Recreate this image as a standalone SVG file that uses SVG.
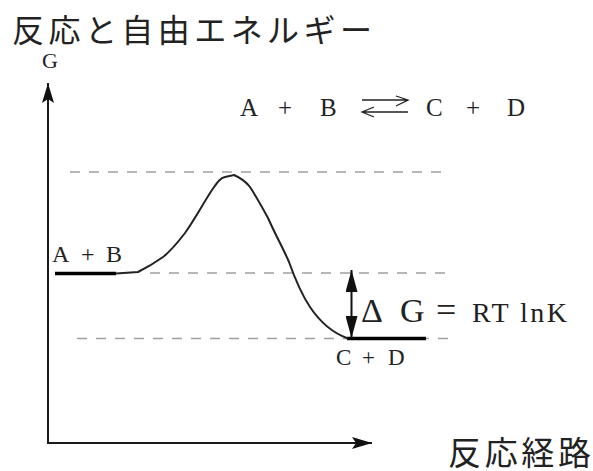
<svg xmlns="http://www.w3.org/2000/svg" width="593" height="471" viewBox="0 0 593 471">
<style>
.jp{font-family:"Noto Sans CJK JP","Noto Sans CJK SC",sans-serif;fill:#222}
.sr{font-family:"Liberation Serif","DejaVu Serif",serif;fill:#222}
.dash{stroke:#a0a0a0;stroke-width:1.6;stroke-dasharray:10 9;fill:none}
.ax{stroke:#1a1a1a;stroke-width:2;fill:none}
.lvl{stroke:#000;stroke-width:3.5;fill:none}
.thin{stroke:#222;stroke-width:1.3;fill:none}
</style>
<defs>
<marker id="ah" viewBox="0 0 20 12" refX="20" refY="6" markerWidth="20" markerHeight="12" markerUnits="userSpaceOnUse" orient="auto-start-reverse">
<path d="M0,0 L20,6 L0,12 L4,6 Z" fill="#111"/>
</marker>
<marker id="dh" viewBox="0 0 22 12" refX="22" refY="6" markerWidth="22" markerHeight="12" markerUnits="userSpaceOnUse" orient="auto-start-reverse">
<path d="M0,0 L22,6 L0,12 Z" fill="#111"/>
</marker>
</defs>
<rect width="593" height="471" fill="#fff"/>
<g id="title"><text class="jp" x="12" y="42" font-size="32" textLength="360" lengthAdjust="spacing">反応と自由エネルギー</text></g>
<g id="axis-y"><text class="sr" x="42" y="68" font-size="22">G</text></g>
<g id="axis-x"><text class="jp" x="448" y="465" font-size="33" textLength="143" lengthAdjust="spacing">反応経路</text></g>
<g id="equation">
<text class="sr" font-size="25" y="116"><tspan x="240">A</tspan><tspan x="278">+</tspan><tspan x="320">B</tspan><tspan x="426">C</tspan><tspan x="466">+</tspan><tspan x="507">D</tspan></text>
<path class="thin" d="M362,100 H408 M396,96 L408,100 L396,106 M408,112 H362 M374,107 L362,112 L374,117"/>
</g>
<g id="guides">
<line class="dash" x1="70" y1="172" x2="447" y2="172"/>
<line class="dash" x1="150" y1="273" x2="450" y2="273"/>
<line class="dash" x1="77" y1="338.5" x2="454" y2="338.5"/>
</g>
<g id="reactants">
<line class="lvl" x1="55" y1="273.5" x2="116" y2="273.5"/>
<text class="sr" font-size="24" y="262"><tspan x="52">A</tspan><tspan x="81">+</tspan><tspan x="106">B</tspan></text>
</g>
<g id="products">
<line class="lvl" x1="347" y1="338.5" x2="426" y2="338.5"/>
<text class="sr" font-size="23" y="365"><tspan x="336">C</tspan><tspan x="362">+</tspan><tspan x="388">D</tspan></text>
</g>
<g id="delta-g">
<text class="sr" y="322"><tspan x="361" font-size="34">Δ</tspan><tspan x="400" font-size="34">G</tspan><tspan x="436" font-size="36">=</tspan><tspan x="472" font-size="28" textLength="95" lengthAdjust="spacing">RT lnK</tspan></text>
</g>
<g id="connectors">
<line class="ax" x1="48" y1="444" x2="48" y2="83" marker-end="url(#ah)"/>
<line class="ax" x1="47" y1="443" x2="372" y2="443" marker-end="url(#ah)"/>
<path d="M116,273.5 L138,272 C150,266 156,262 163,257 C172,250 178,242 185,233 C195,219 204,202 212,190 C217,183 220,178 225,177 L234,175 C241,178 246,182 250,187 C256,196 262,207 268,218 C276,236 284,250 289,262 C294,276 300,292 310,307 C318,319 330,332 348,338.5" stroke="#222" stroke-width="2" fill="none"/>
<line x1="351.5" y1="270" x2="351.5" y2="338" stroke="#111" stroke-width="2" marker-start="url(#dh)" marker-end="url(#dh)"/>
</g>
</svg>
